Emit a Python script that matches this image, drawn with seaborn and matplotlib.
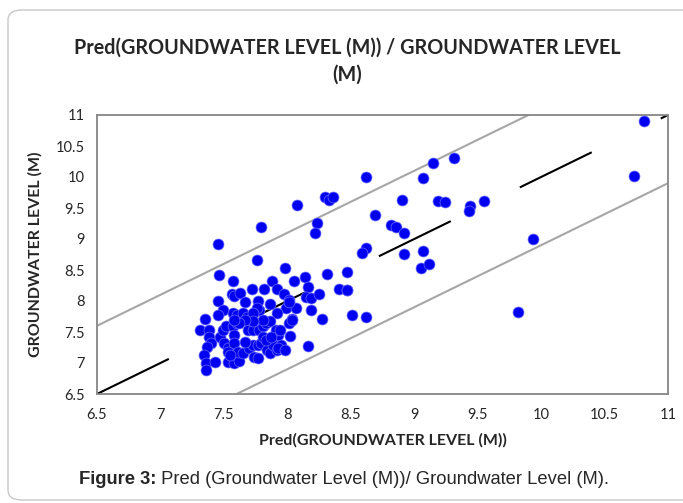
import numpy as np
import pandas as pd
import matplotlib
matplotlib.use("Agg")
import matplotlib.pyplot as plt
import seaborn as sns
from matplotlib.patches import FancyBboxPatch

# values
pred = [8.62, 8.08, 8.30, 8.33, 8.36, 8.69, 7.79, 8.23, 8.22, 7.45,
        8.62, 8.59, 7.76, 7.98, 7.46, 7.57, 8.14, 8.31, 8.47, 7.88,
        8.05, 8.16, 7.72, 7.82, 7.56, 7.58, 7.63, 7.67, 7.77, 7.92,
        7.97, 7.45, 7.49, 7.45, 7.86, 8.01, 7.99, 8.07, 8.15, 8.19,
        8.25, 8.19, 8.41, 8.47, 8.47, 8.51, 8.62, 8.27, 7.78, 7.76,
        7.57, 7.60, 7.65, 7.68, 7.73, 7.92, 8.01, 8.04, 8.01, 8.04,
        7.35, 7.31, 7.38, 7.38, 7.40, 7.37, 7.34, 7.36, 7.36, 7.43,
        7.47, 7.49, 7.52, 7.57, 7.60, 7.50, 7.53, 7.53, 7.58, 7.62,
        7.58, 7.58, 7.61, 7.65, 7.70, 7.73, 7.77, 7.79, 7.74, 7.77,
        7.84, 7.86, 7.89, 7.93, 7.95, 7.92, 7.93, 7.98, 8.02, 8.16,
        7.69, 7.73, 7.78, 7.81, 7.83, 7.86, 7.81, 7.73, 7.91, 7.94,
        7.67, 7.62, 7.58, 7.81, 7.83, 7.87, 7.53, 7.55, 7.67,
        10.81, 10.73, 9.94, 9.82, 9.31, 9.15, 9.07, 8.90, 9.19, 9.24,
        9.44, 9.43, 9.55, 8.82, 8.86, 8.92, 8.92, 9.07, 9.05, 9.12]
observed = [10.00, 9.55, 9.67, 9.63, 9.67, 9.39, 9.19, 9.26, 9.10, 8.92,
            8.85, 8.77, 8.66, 8.53, 8.42, 8.33, 8.38, 8.44, 8.46, 8.33,
            8.33, 8.23, 8.19, 8.19, 8.12, 8.08, 8.13, 7.98, 8.00, 8.19,
            8.12, 8.00, 7.85, 7.77, 7.95, 8.02, 7.88, 7.88, 8.07, 8.05,
            8.12, 7.85, 8.20, 8.18, 8.17, 7.78, 7.74, 7.71, 7.85, 7.88,
            7.80, 7.77, 7.80, 7.75, 7.80, 7.80, 7.99, 7.71, 7.65, 7.69,
            7.71, 7.53, 7.53, 7.42, 7.32, 7.26, 7.13, 7.00, 6.88, 7.02,
            7.42, 7.53, 7.59, 7.59, 7.64, 7.32, 7.24, 7.02, 7.00, 7.03,
            7.45, 7.32, 7.18, 7.16, 7.24, 7.29, 7.29, 7.32, 7.10, 7.08,
            7.21, 7.16, 7.29, 7.45, 7.29, 7.21, 7.25, 7.21, 7.44, 7.27,
            7.53, 7.53, 7.53, 7.59, 7.64, 7.67, 7.69, 7.67, 7.53, 7.53,
            7.69, 7.64, 7.69, 7.42, 7.37, 7.42, 7.17, 7.13, 7.34,
            10.91, 10.01, 9.00, 7.83, 10.30, 10.22, 9.98, 9.63, 9.61, 9.60,
            9.54, 9.45, 9.61, 9.23, 9.20, 9.09, 8.76, 8.81, 8.53, 8.60]
band = 1.1
ticks = [6.5, 7, 7.5, 8, 8.5, 9, 9.5, 10, 10.5, 11]
tick_labels = ["6.5", "7", "7.5", "8", "8.5", "9", "9.5", "10", "10.5", "11"]

df = pd.DataFrame({"pred": pred, "observed": observed})

sns.set_style("white")
plt.rcParams['font.family'] = ['Lato', 'DejaVu Sans']

fig = plt.figure(figsize=(6.83, 5.03), dpi=100)
fig.patches.append(FancyBboxPatch((8 / 683, 3 / 503), 700 / 683, 490 / 503,
                                  boxstyle="round,pad=0,rounding_size=0.02",
                                  transform=fig.transFigure, fill=False,
                                  edgecolor="#c8c8c8", linewidth=1.0))
ax = fig.add_axes([97 / 683, 109 / 503, 571 / 683, 279 / 503])

line_x = np.array([6.5, 11])
ax.plot(line_x, line_x + band, color="#a6a6a6", lw=1.5, zorder=1)
ax.plot(line_x, line_x - band, color="#a6a6a6", lw=1.5, zorder=1)
ax.plot(line_x, line_x, color="black", lw=1.5, dashes=(38.4, 36.9), zorder=1)

sns.scatterplot(data=df, x="pred", y="observed", ax=ax, s=62,
                color="#0000f0", edgecolor="#6a6aff", linewidth=0.5, zorder=3)

ax.set_xlim(6.5, 11)
ax.set_ylim(6.5, 11)
ax.set_xticks(ticks)
ax.set_xticklabels(tick_labels)
ax.set_yticks(ticks)
ax.set_yticklabels(tick_labels)
for sp in ax.spines.values():
    sp.set_color("#868686")
    sp.set_linewidth(1.3)
ax.tick_params(axis="x", direction="inout", length=8, width=1.2, color="#868686",
               labelsize=10.5, pad=6)
ax.tick_params(axis="y", direction="out", length=5, width=1.2, color="#868686",
               labelsize=10.5, pad=4)
ax.set_xlabel("Pred(GROUNDWATER LEVEL (M))", fontsize=11.5, fontweight="bold", labelpad=8)
ax.set_ylabel("GROUNDWATER LEVEL (M)", fontsize=11.5, fontweight="bold", labelpad=9)

fig.text(347 / 683, 1 - 61 / 503, "Pred(GROUNDWATER LEVEL (M)) / GROUNDWATER LEVEL\n(M)",
         ha="center", va="center", fontsize=14.2, fontweight="bold", linespacing=1.4)

# caption: bold lead-in followed by plain text
cap_y = 1 - 480 / 503
t1 = fig.text(79 / 683, cap_y, "Figure 3:", ha="left", va="center", fontsize=13.2,
              fontweight="bold", family="Liberation Sans")
fig.canvas.draw()
bb = t1.get_window_extent(fig.canvas.get_renderer())
fig.text(bb.x1 / fig.bbox.width, cap_y, " Pred (Groundwater Level (M))/ Groundwater Level (M).",
         ha="left", va="center", fontsize=13.2, family="Liberation Sans")

fig.savefig("out.png", dpi=100)
